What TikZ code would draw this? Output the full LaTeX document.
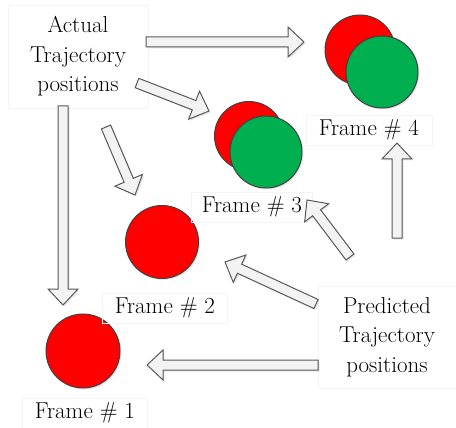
\documentclass[tikz,border=0pt]{standalone}
\usetikzlibrary{calc, shadows}
\definecolor{framered}{RGB}{255, 0, 0}
\definecolor{framegreen}{RGB}{0, 176, 80}
\definecolor{edgegray}{RGB}{64, 64, 64}
\definecolor{arrowfill}{RGB}{243, 243, 243}
\definecolor{arrowedge}{RGB}{89, 89, 89}

\tikzset{
  ball/.style={circle, draw=edgegray, line width=1pt, inner sep=0pt,
               drop shadow={opacity=0.2, shadow xshift=1.5pt, shadow yshift=-1.5pt}},
  lbl/.style={draw=gray!8, font=\rmfamily\fontsize{23}{29.5}\selectfont,
              align=center, inner sep=0pt},
  barrow/.style={draw=arrowedge, fill=arrowfill, line width=1pt, line join=miter,
                 drop shadow={opacity=0.2, shadow xshift=1.5pt, shadow yshift=-1.5pt}}
}

% fat hollow arrow from #1 to #2
\newcommand{\blockarrow}[2]{%
  \coordinate (bh) at ($(#2)!16pt!(#1)$);
  \draw[barrow] ($(#1)!5pt!90:(#2)$) -- ($(bh)!5pt!-90:(#1)$)
        -- ($(bh)!15pt!-90:(#1)$) -- (#2) -- ($(bh)!15pt!90:(#1)$)
        -- ($(bh)!5pt!90:(#1)$) -- ($(#1)!5pt!-90:(#2)$) -- cycle;
}

\begin{document}
\begin{tikzpicture}[x=1pt, y=-1pt]
  \useasboundingbox (0,0) rectangle (456,428);

  % text boxes
  \node[lbl, minimum width=140pt, minimum height=103pt] (actual) at (78,56.5)
        {Actual\\Trajectory\\positions};
  \node[lbl, minimum width=138pt, minimum height=102pt] (predicted) at (387,337)
        {Predicted\\Trajectory\\positions};

  % frames
  \node[ball, fill=framered, minimum size=70pt] (red4) at (360,50) {};
  \node[ball, fill=framegreen, minimum size=72pt] (green4) at (382,72) {};
  \node[ball, fill=framered, minimum size=69pt] (red3) at (249,136) {};
  \node[ball, fill=framegreen, minimum size=72pt] (green3) at (266,152) {};
  \node[ball, fill=framered, minimum size=73pt] (red2) at (162,242) {};
  \node[ball, fill=framered, minimum size=74pt] (red1) at (83,351) {};

  \node[lbl, minimum width=126pt, minimum height=30pt] (frame4) at (369,130) {Frame \# 4};
  \node[lbl, minimum width=121pt, minimum height=30pt] (frame3) at (252,207) {Frame \# 3};
  \node[lbl, minimum width=125pt, minimum height=30pt] (frame2) at (165,308) {Frame \# 2};
  \node[lbl, minimum width=125pt, minimum height=30pt] (frame1) at (85,413) {Frame \# 1};

  % arrow ends
  \coordinate (act4) at (146,42);   \coordinate (tip4) at (304,42);
  \coordinate (act3) at (137,83);   \coordinate (tip3) at (209,111);
  \coordinate (act2) at (106,127);  \coordinate (tip2) at (135,195);
  \coordinate (act1) at (63,106);   \coordinate (tip1) at (63,305);
  \coordinate (pre1) at (318,365);  \coordinate (end1) at (147,365);
  \coordinate (pre2) at (316,304);  \coordinate (end2) at (225,262);
  \coordinate (pre3) at (350,257);  \coordinate (end3) at (307,200);
  \coordinate (pre4) at (397,238);  \coordinate (end4) at (397,143);

  \foreach \s/\t in {act4/tip4, act3/tip3, act2/tip2, act1/tip1,
                     pre1/end1, pre2/end2, pre3/end3, pre4/end4} {
    \blockarrow{\s}{\t}
  }
\end{tikzpicture}
\end{document}
